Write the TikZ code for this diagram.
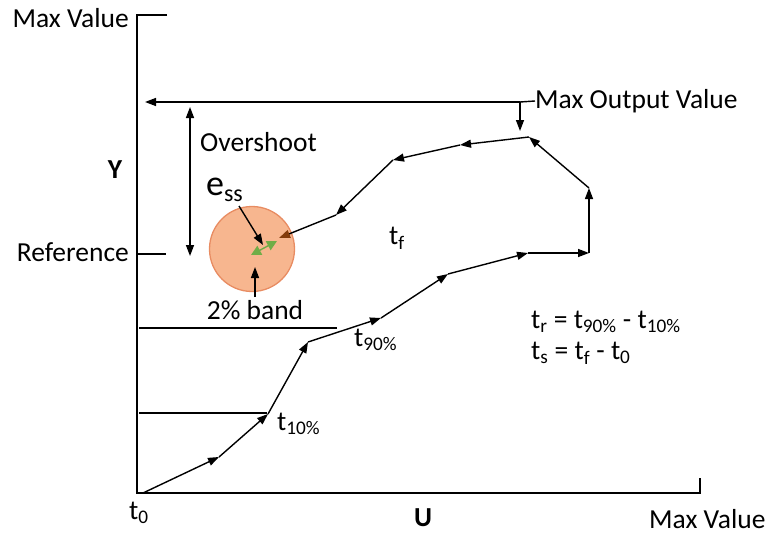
\documentclass[tikz,border=0pt]{standalone}
\usepackage{fontspec}
\setmainfont{Carlito}
\usetikzlibrary{arrows.meta}
\definecolor{bandfill}{RGB}{247,182,143}
\definecolor{banddraw}{RGB}{232,140,98}
\definecolor{essgreen}{RGB}{112,173,71}
\definecolor{tipbrown}{RGB}{132,60,12}
\begin{document}
\begin{tikzpicture}[x=1pt,y=-1pt,
  lbl/.style={font=\fontsize{27.5}{32}\selectfont, inner sep=0pt, text=black},
  axisline/.style={line width=1.4pt},
  seg/.style={line width=1.4pt, -{Triangle[length=11pt,width=8pt]}},
  dbl/.style={line width=1.4pt, {Triangle[length=11pt,width=8pt]}-{Triangle[length=11pt,width=8pt]}}]
\useasboundingbox (0,0) rectangle (768,535);
% labels
\node[lbl, anchor=east] (maxv) at (129,18) {Max Value};
\node[lbl, anchor=west] (maxv2) at (649,519) {Max Value};
\node[lbl, anchor=west] (t0) at (129,513) {t\textsubscript{0}};
\node[lbl] (U) at (423,518) {\textbf{U}};
\node[lbl] (Y) at (115,170) {\textbf{Y}};
\node[lbl, anchor=east] (ref) at (129,252) {Reference};
\node[lbl, anchor=west] (mov) at (535,101) {Max Output Value};
\node[lbl, anchor=west] (over) at (200,142) {Overshoot};
\node[lbl, anchor=base west] (ess) at (206,195) {\fontsize{36}{40}\selectfont e\raisebox{-6pt}{\fontsize{24}{28}\selectfont ss}};
\node[lbl] (band) at (255,310) {2\% band};
\node[lbl, anchor=west] (tf) at (389,238) {t\textsubscript{f}};
\node[lbl, anchor=west] (t10) at (277,424) {t\textsubscript{10\%}};
\node[lbl, anchor=west] (t90) at (354,340) {t\textsubscript{90\%}};
\node[lbl, anchor=west] (tr) at (531,322) {t\textsubscript{r} = t\textsubscript{90\%} - t\textsubscript{10\%}};
\node[lbl, anchor=west] (ts) at (531,353) {t\textsubscript{s} = t\textsubscript{f} - t\textsubscript{0}};
% axes
\coordinate (ytick) at (167,15);
\coordinate (ytop) at (137,15);
\coordinate (O) at (137,493);
\coordinate (xend) at (700,493);
\coordinate (xtick) at (700,478);
\draw[axisline] (ytick) -- (ytop) -- (O) -- (xend) -- (xtick);
\coordinate (refa) at (137,254);
\coordinate (refb) at (166,254);
\draw[line width=2.6pt] (refa) -- (refb);
% max output line
\coordinate (mo) at (520,102);
\coordinate (moleft) at (145,102);
\coordinate (modown) at (520,131);
\draw[seg] (mo) -- (moleft);
\draw[axisline] (mo) -- (mov.west);
\draw[seg] (mo) -- (modown);
% overshoot
\coordinate (osa) at (190,107);
\coordinate (osb) at (190,256);
\draw[dbl] (osa) -- (osb);
% band circle
\node[circle, draw=banddraw, fill=bandfill, line width=1.3pt, minimum size=85pt, inner sep=0pt] (bandc) at (252,249) {};
% horizontal level lines
\coordinate (h90a) at (139,328);
\coordinate (h90b) at (337,328);
\coordinate (h10a) at (139,413);
\coordinate (h10b) at (267,413);
\draw[axisline] (h90a) -- (h90b);
\draw[axisline] (h10a) -- (h10b);
% response curve
\coordinate (p0) at (143,493);
\coordinate (p1) at (219,457);
\coordinate (p2) at (268,414);
\coordinate (p3) at (308,342);
\coordinate (p4) at (381,318);
\coordinate (p5) at (448,274);
\coordinate (p6) at (528,253);
\coordinate (p7) at (589,253);
\coordinate (p8) at (589,188);
\coordinate (p9) at (529,137);
\coordinate (p10) at (460,145);
\coordinate (p11) at (393,160);
\coordinate (p12) at (336,215);
\coordinate (p13) at (279,238);
\draw[seg] (p0) -- (p1);
\draw[seg] (p1) -- (p2);
\draw[seg] (p2) -- (p3);
\draw[seg] (p3) -- (p4);
\draw[seg] (p4) -- (p5);
\draw[seg] (p5) -- (p6);
\draw[seg] (p6) -- (p7);
\draw[seg] (p7) -- (p8);
\draw[seg] (p8) -- (p9);
\draw[seg] (p9) -- (p10);
\draw[seg] (p10) -- (p11);
\draw[seg] (p11) -- (p12);
\draw[line width=1.4pt, -{Triangle[length=11pt,width=8pt,color=tipbrown]}] (p12) -- (p13);
% steady-state error
\coordinate (ga) at (251,255);
\coordinate (gb) at (277,241);
\draw[essgreen, line width=1.4pt, {Triangle[length=10pt,width=10pt]}-{Triangle[length=10pt,width=10pt]}] (ga) -- (gb);
\coordinate (essa) at (239,206);
\coordinate (essb) at (263,245);
\draw[seg] (essa) -- (essb);
\coordinate (bda) at (255,297);
\coordinate (bdb) at (255,267);
\draw[seg] (bda) -- (bdb);
\end{tikzpicture}
\end{document}
